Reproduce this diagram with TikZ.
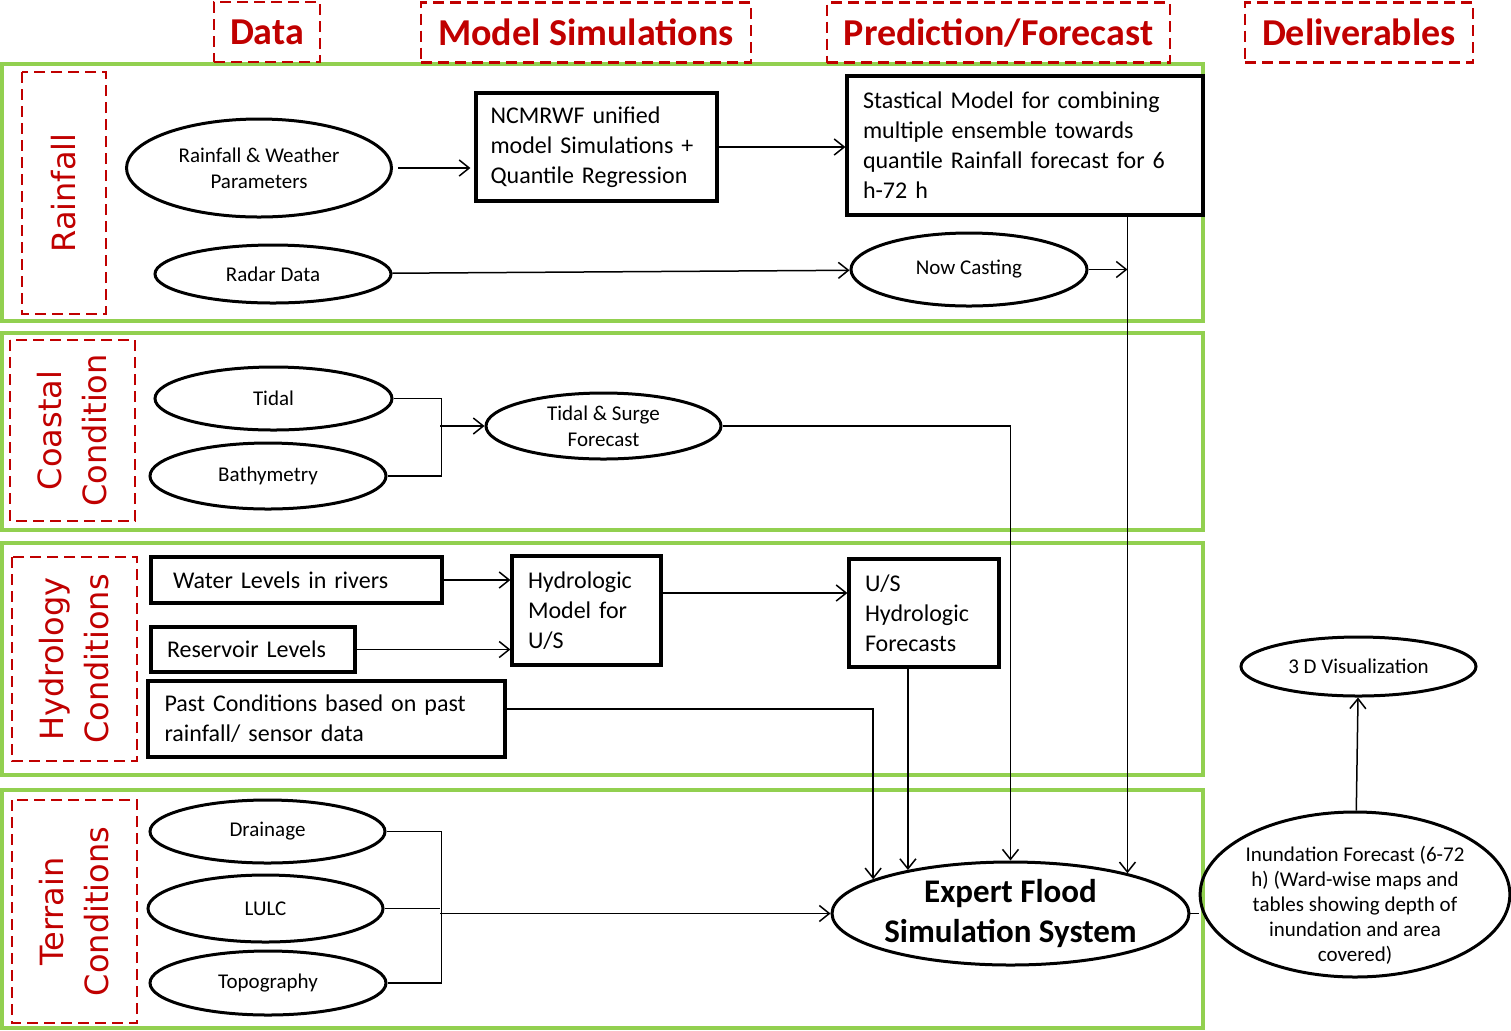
\documentclass[tikz,border=0pt]{standalone}
\usepackage{fontspec}
\setmainfont{Carlito}
\newfontfamily\sidefont{DejaVu Sans}
\usepackage{tikz}
\usetikzlibrary{arrows.meta,shapes.geometric}
\definecolor{hdrred}{HTML}{C00000}
\definecolor{secgreen}{HTML}{92D050}

\begin{document}
\begin{tikzpicture}[
  x=0.5pt, y=-0.5pt,
  sect/.style={draw=secgreen, line width=1.6pt, minimum width=600.5pt, inner sep=0pt},
  hdr/.style={draw=hdrred, dash pattern=on 5.5pt off 3pt, line width=1.3pt, text=hdrred, font=\fontsize{19}{22}\selectfont\bfseries, minimum height=30pt, inner sep=0pt},
  side/.style={draw=hdrred, dash pattern=on 5.5pt off 3pt, line width=1.3pt, text=hdrred, font=\sidefont\fontsize{16}{22.5}\selectfont, rotate=90, align=center, minimum height=62.5pt, inner sep=0pt},
  oval/.style={ellipse, draw, line width=1.5pt, inner sep=0pt, align=center, font=\fontsize{10.5}{13}\selectfont},
  box/.style={draw, line width=1.6pt, align=left, inner xsep=8pt, inner ysep=0pt, font=\fontsize{12}{15}\selectfont},
  arrow/.style={-{Straight Barb[length=5pt,width=8pt]}, line width=0.75pt},
  link/.style={line width=0.75pt}
]
\useasboundingbox (0,0) rectangle (1511,1030);

\node[sect, minimum height=128.5pt] (rainsec) at (602.5,192.5) {};
\node[sect, minimum height=98.5pt] (coastsec) at (602.5,431.5) {};
\node[sect, minimum height=116pt] (hydsec) at (602.5,659) {};
\node[sect, minimum height=119pt] (tersec) at (602.5,909) {};

\node[hdr, minimum width=53pt] (hdata) at (267,32) {Data};
\node[hdr, minimum width=165pt] (hmodel) at (586,32.5) {Model Simulations};
\node[hdr, minimum width=171.5pt] (hpred) at (998.5,32.5) {Prediction/Forecast};
\node[hdr, minimum width=114pt] (hdeliv) at (1359,32.5) {Deliverables};

\node[side, minimum width=121pt, minimum height=42pt] (lrain) at (64,193) {Rainfall};
\node[side, minimum width=90.5pt] (lcoast) at (72.5,430.5) {Coastal\\Condition};
\node[side, minimum width=102pt] (lhyd) at (74.5,659) {Hydrology\\Conditions};
\node[side, minimum width=111.5pt] (lter) at (74.5,911.5) {Terrain\\Conditions};

\node[oval, minimum width=132.5pt, minimum height=49pt] (rainpar) at (259,168) {Rainfall \& Weather\\Parameters};
\node[box, text width=106pt, inner xsep=7.25pt, minimum height=54pt] (nwp) at (596.5,147) {NCMRWF unified\\model Simulations +\\Quantile Regression};
\node[box, text width=162pt, minimum height=69.5pt] (stat) at (1025,145.5) {Stastical Model for combining\\multiple ensemble towards\\quantile Rainfall forecast for 6\\h-72 h};
\node[oval, minimum width=118pt, minimum height=29pt] (radar) at (273,274) {Radar Data};
\node[oval, minimum width=118pt, minimum height=36.5pt] (nowcast) at (969,269.5) {Now Casting};

\node[oval, minimum width=118.5pt, minimum height=31.5pt] (tidal) at (273.5,398.5) {Tidal};
\node[oval, minimum width=118pt, minimum height=33pt] (bathy) at (268,476) {Bathymetry};
\node[oval, minimum width=117.5pt, minimum height=33pt] (surge) at (603.5,426) {Tidal \& Surge\\Forecast};

\node[box, text width=123.5pt, inner xsep=11pt, minimum height=23pt] (water) at (296.5,580) {Water Levels in rivers};
\node[box, text width=86pt, minimum height=22.5pt] (res) at (253,649.5) {Reservoir Levels};
\node[box, text width=58.5pt, minimum height=54.5pt] (hydm) at (586.5,610.5) {Hydrologic\\Model for\\U/S};
\node[box, text width=162pt, inner xsep=8.25pt, minimum height=38pt] (past) at (326.5,719) {Past Conditions based on past\\rainfall/ sensor data};
\node[box, text width=59pt, minimum height=54pt] (usf) at (924,613) {U/S\\Hydrologic\\Forecasts};

\node[oval, minimum width=117.5pt, minimum height=31.5pt] (drain) at (267.5,831.5) {Drainage};
\node[oval, minimum width=117.5pt, minimum height=33.5pt] (lulc) at (265.5,908.5) {LULC};
\node[oval, minimum width=118pt, minimum height=32pt] (topo) at (268,983) {Topography};

\node[oval, minimum width=175.5pt, minimum height=51.5pt, font=\fontsize{16.5}{20.5}\selectfont\bfseries] (expert) at (1010.5,913.5) {Expert Flood\\Simulation System};
\node[oval, minimum width=153pt, minimum height=82.5pt, font=\fontsize{10.5}{12.5}\selectfont] (inund) at (1355,894.5) {\raisebox{-8.5pt}[0pt][0pt]{\begin{tabular}{@{}c@{}}Inundation Forecast (6-72\\h) (Ward-wise maps and\\tables showing depth of\\inundation and area\\covered)\end{tabular}}};
\node[oval, minimum width=117.5pt, minimum height=29.5pt] (vis) at (1358.5,666.5) {3 D Visualization};

\coordinate (cjoin) at (440,426);
\coordinate (tjoin) at (440,913.5);

\draw[arrow, shorten <=2.5pt, shorten >=2pt] (rainpar.east) -- (rainpar.east -| nwp.west);
\draw[arrow] (nwp.east) -- (nwp.east -| stat.west);
\draw[arrow] (radar) -- (nowcast);
\draw[arrow] (expert.19 |- stat.south) -- (expert.19);
\draw[arrow] (nowcast.east) -- (nowcast.east -| expert.19);
\draw[link] (tidal.east) -- ++(48,0) |- (bathy.east);
\draw[arrow] (cjoin) -- (surge.west);
\draw[arrow] (surge.east) -| (expert.north);
\draw[arrow] (water.east) -- (water.east -| hydm.west);
\draw[arrow] (res.east) -- (res.east -| hydm.west);
\draw[arrow] ([yshift=8.75pt]hydm.east) -- ([yshift=8.75pt]hydm.east -| usf.west);
\draw[arrow] (usf.south -| expert.157) -- (expert.157);
\draw[arrow] ([yshift=5pt]past.east) -| (expert.166);
\draw[link] (drain.east) -- ++(55,0) |- (topo.east);
\draw[link] (lulc.east) -- (lulc.east -| tjoin);
\draw[arrow] (tjoin) -- (expert.west);
\draw[link] (expert.east) -- (expert.east -| inund.west);
\draw[arrow] (inund) -- (vis);
\end{tikzpicture}
\end{document}
